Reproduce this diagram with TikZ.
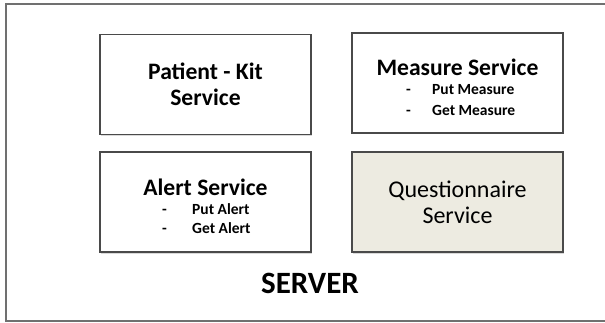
\documentclass[tikz,border=0pt]{standalone}
\usepackage{fontspec}
\setmainfont{Carlito}
\usetikzlibrary{shadows}
\definecolor{boxline}{HTML}{4A4A4A}
\definecolor{frameline}{HTML}{707070}
\definecolor{questfill}{HTML}{EDEBE1}
\newcommand{\listdash}[1]{\makebox[#1][l]{-}}
\tikzset{
	service/.style  = {draw=boxline, line width=1.4pt, rectangle, fill=white,
		minimum width = 211pt,
		minimum height = 100pt,
		drop shadow={shadow xshift=1pt, shadow yshift=-1.5pt, opacity=0.3}},
	title/.style    = {font=\fontsize{23.6}{26.5}\selectfont\bfseries, inner sep=0pt},
	entry/.style    = {font=\fontsize{15.5}{18}\selectfont\bfseries, inner sep=0pt, anchor=west},
}
\begin{document}
\begin{tikzpicture}[ x=1pt,
                       y=-1pt,                      %<--pixel coordinates, y down
                       line join=miter
                       ]
    \useasboundingbox (0,0) rectangle (605,323);

    %-- Frame --%
    \draw[frameline, line width=2pt] (605,4) -- (6,4) -- (6,321) -- (605,321);

    %-- Blocks creation --%
    \draw
      % TOP ROW %
      node(patientKit) at (205.5,84.5) [service, title, align=center] {Patient - Kit\\Service}
      node(measure) at (457.5,83) [service] {}
      % BOTTOM ROW %
      node(alert) at (205.5,202) [service] {}
      node(questionnaire) at (457.5,202) [service, fill=questfill,
        font=\fontsize{24}{26}\selectfont, align=center] {Questionnaire\\Service}
    ;
    \draw
      % MEASURE SERVICE %
      node(measureTitle) at (457.5,67.5) [title] {Measure Service}
      node(putMeasure) at (406,90) [entry] {\listdash{26pt}Put Measure}
      node(getMeasure) at (406,110) [entry] {\listdash{26pt}Get Measure}
    ;
    \draw
      % ALERT SERVICE %
      node(alertTitle) at (205.5,187) [title] {Alert Service}
      node(putAlert) at (162,209) [entry] {\listdash{30pt}Put Alert}
      node(getAlert) at (162,228) [entry] {\listdash{30pt}Get Alert}
    ;

    %-- Label --%
    \draw
      node(server) at (310,283) [font=\fontsize{31}{34}\selectfont\bfseries] {SERVER}
    ;

\end{tikzpicture}
\end{document}
